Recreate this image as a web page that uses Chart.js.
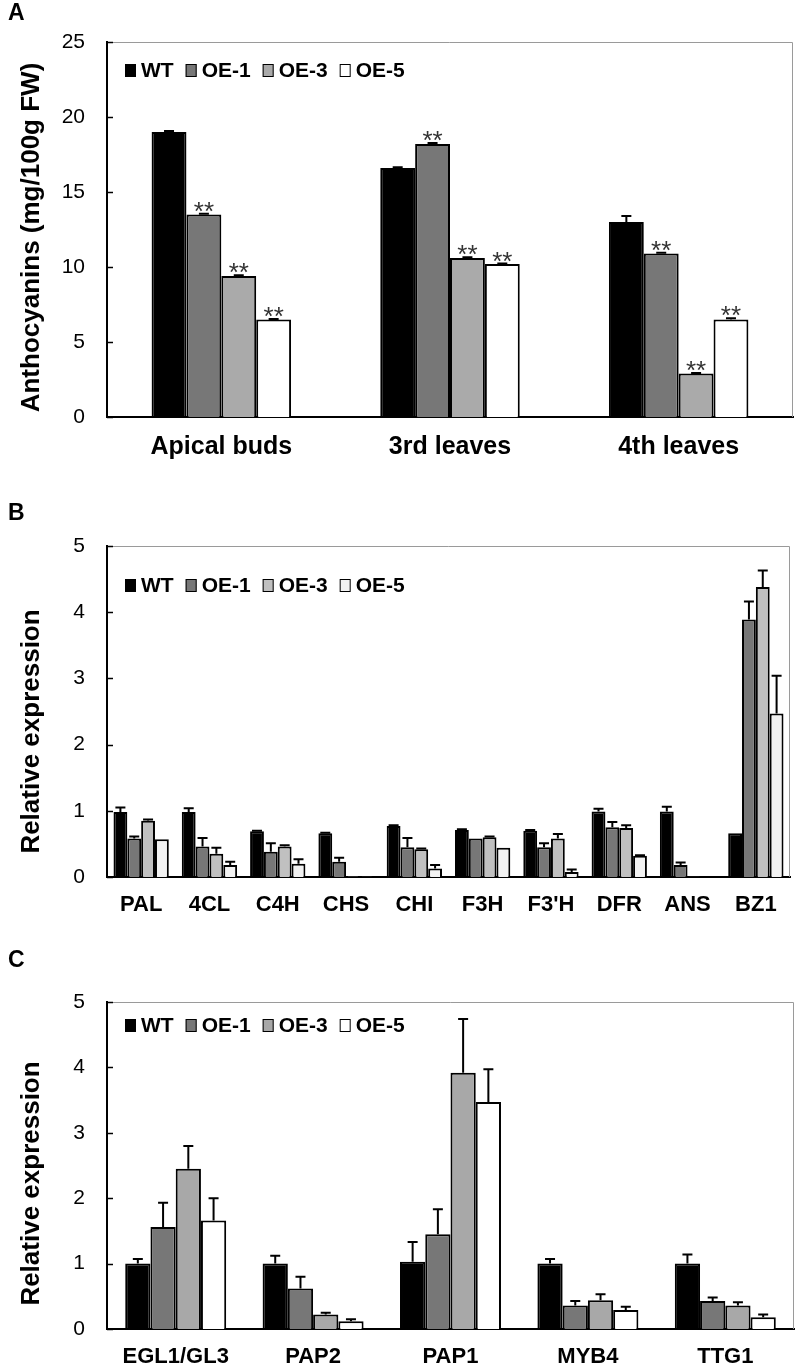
<!DOCTYPE html>
<html>
<head>
<meta charset="utf-8">
<script src="https://cdn.jsdelivr.net/npm/chart.js@4.4.1/dist/chart.umd.min.js"></script>
<style>
    body { margin: 0; background: #fff; }
    #page { position: relative; width: 800px; height: 1372px; overflow: hidden; }
    .panel { position: absolute; left: 0; width: 800px; }
    .letter { position: absolute; left: 8px; font: bold 23px Arial, "Liberation Sans", sans-serif; color: #000; z-index: 2; }
</style>
</head>
<body>
<div id="page">
    <div class="letter" style="top: -1px;">A</div>
    <div class="letter" style="top: 499px;">B</div>
    <div class="letter" style="top: 946px;">C</div>
    <div class="panel" style="top: 0px; height: 470px;"><canvas id="chartA"></canvas></div>
    <div class="panel" style="top: 490px; height: 440px;"><canvas id="chartB"></canvas></div>
    <div class="panel" style="top: 950px; height: 422px;"><canvas id="chartC"></canvas></div>
</div>
<script>
const seriesNames = ['WT', 'OE-1', 'OE-3', 'OE-5'];

// A - anthocyanin content
const tissueLabels = ['Apical buds', '3rd leaves', '4th leaves'];
const anthoWT = [19.0, 16.6, 13.0];
const anthoOE1 = [13.5, 18.2, 10.9];
const anthoOE3 = [9.4, 10.6, 2.9];
const anthoOE5 = [6.5, 10.2, 6.5];
const anthoErrWT = [0.06, 0.05, 0.4];
const anthoErrOE1 = [0.05, 0.06, 0.05];
const anthoErrOE3 = [0.05, 0.05, 0.04];
const anthoErrOE5 = [0.03, 0.03, 0.08];
const anthoStarsWT = [false, false, false];
const anthoStarsOE1 = [true, true, true];
const anthoStarsOE3 = [true, true, true];
const anthoStarsOE5 = [true, true, true];

// B - structural genes
const pathwayGenes = ['PAL', '4CL', 'C4H', 'CHS', 'CHI', 'F3H', "F3'H", 'DFR', 'ANS', 'BZ1'];
const pathWT = [0.98, 0.98, 0.69, 0.66, 0.77, 0.71, 0.70, 0.99, 0.99, 0.66];
const pathOE1 = [0.58, 0.46, 0.38, 0.23, 0.45, 0.58, 0.45, 0.75, 0.18, 3.89];
const pathOE3 = [0.85, 0.35, 0.46, 0.01, 0.42, 0.60, 0.58, 0.74, 0.005, 4.38];
const pathOE5 = [0.57, 0.18, 0.20, 0.005, 0.13, 0.44, 0.075, 0.32, 0, 2.47];
const pathErrWT = [0.07, 0.06, 0.01, 0.01, 0.01, 0.01, 0.01, 0.04, 0.07, 0];
const pathErrOE1 = [0.03, 0.13, 0.13, 0.06, 0.14, 0, 0.06, 0.08, 0.04, 0.27];
const pathErrOE3 = [0.02, 0.09, 0.02, 0, 0.01, 0.01, 0.07, 0.04, 0, 0.25];
const pathErrOE5 = [0, 0.05, 0.07, 0, 0.05, 0, 0.04, 0.01, 0, 0.57];

// C - regulatory genes
const regGenes = ['EGL1/GL3', 'PAP2', 'PAP1', 'MYB4', 'TTG1'];
const regWT = [1.0, 1.0, 1.03, 1.0, 1.0];
const regOE1 = [1.56, 0.62, 1.45, 0.36, 0.43];
const regOE3 = [2.45, 0.22, 3.92, 0.44, 0.36];
const regOE5 = [1.66, 0.12, 3.47, 0.29, 0.18];
const regErrWT = [0.07, 0.12, 0.30, 0.07, 0.14];
const regErrOE1 = [0.37, 0.18, 0.38, 0.07, 0.05];
const regErrOE3 = [0.35, 0.03, 0.82, 0.09, 0.05];
const regErrOE5 = [0.34, 0.03, 0.50, 0.05, 0.04];

const numFont = '"Liberation Sans", Arial, sans-serif';

// grey box on top/right + little inside ticks on the y axis
const framePlugin = {
    id: 'frame',
    beforeDatasetsDraw(chart) {
        const ctx = chart.ctx;
        const a = chart.chartArea;
        ctx.save();
        ctx.strokeStyle = '#9a9a9a';
        ctx.lineWidth = 1;
        ctx.beginPath();
        ctx.moveTo(a.left, a.top + 0.5);
        ctx.lineTo(a.right - 0.5, a.top + 0.5);
        ctx.lineTo(a.right - 0.5, a.bottom);
        ctx.stroke();
        const y = chart.scales.y;
        ctx.strokeStyle = '#000';
        ctx.lineWidth = 1.5;
        y.ticks.forEach(function (t) {
            const py = Math.round(y.getPixelForValue(t.value)) + 0.5;
            ctx.beginPath();
            ctx.moveTo(a.left, py);
            ctx.lineTo(a.left + 6, py);
            ctx.stroke();
        });
        ctx.restore();
    }
};

// upper error bars and ** marks
const errorPlugin = {
    id: 'errbars',
    afterDatasetsDraw(chart) {
        const ctx = chart.ctx;
        const y = chart.scales.y;
        ctx.save();
        chart.data.datasets.forEach(function (ds, i) {
            const meta = chart.getDatasetMeta(i);
            meta.data.forEach(function (bar, j) {
                const v = ds.data[j];
                const e = ds.errors ? ds.errors[j] : 0;
                const top = y.getPixelForValue(v + e);
                if (e > 0) {
                    ctx.strokeStyle = '#000';
                    ctx.lineWidth = 2;
                    ctx.beginPath();
                    ctx.moveTo(bar.x, y.getPixelForValue(v));
                    ctx.lineTo(bar.x, top);
                    ctx.moveTo(bar.x - 5, top);
                    ctx.lineTo(bar.x + 5, top);
                    ctx.stroke();
                }
                if (ds.stars && ds.stars[j]) {
                    ctx.fillStyle = '#333';
                    ctx.font = '26px ' + numFont;
                    ctx.textAlign = 'center';
                    ctx.textBaseline = 'alphabetic';
                    ctx.fillText('**', bar.x, top + 6);
                }
            });
        });
        ctx.restore();
    }
};

// legend drawn inside the plot, top-left
const boxLegendPlugin = {
    id: 'boxLegend',
    afterDraw(chart, args, opts) {
        const ctx = chart.ctx;
        const a = chart.chartArea;
        let x = a.left + opts.dx;
        const cy = a.top + opts.dy;
        ctx.save();
        ctx.font = 'bold 21px ' + numFont;
        ctx.textBaseline = 'middle';
        ctx.textAlign = 'left';
        chart.data.datasets.forEach(function (ds) {
            ctx.fillStyle = ds.backgroundColor;
            ctx.fillRect(x, cy - 6, 11, 13);
            ctx.strokeStyle = '#000';
            ctx.lineWidth = 1;
            ctx.strokeRect(x + 0.5, cy - 5.5, 10, 12);
            ctx.fillStyle = '#000';
            ctx.fillText(ds.label, x + 16, cy + 1);
            x += 16 + ctx.measureText(ds.label).width + 12;
        });
        ctx.restore();
    }
};

// rotated y title, slightly below the middle of the axis like the original
const yTitlePlugin = {
    id: 'yTitle',
    afterDraw(chart, args, opts) {
        const ctx = chart.ctx;
        const a = chart.chartArea;
        ctx.save();
        ctx.translate(opts.x, (a.top + a.bottom) / 2 + opts.shift);
        ctx.rotate(-Math.PI / 2);
        ctx.font = 'bold 26px ' + numFont;
        ctx.fillStyle = '#000';
        ctx.textAlign = 'center';
        ctx.textBaseline = 'middle';
        ctx.fillText(opts.text, 0, 0);
        ctx.restore();
    }
};

function makeDatasets(values, errors, colors, stars) {
    return values.map(function (v, i) {
        return {
            label: seriesNames[i],
            data: v,
            errors: errors[i],
            stars: stars ? stars[i] : null,
            backgroundColor: colors[i],
            borderColor: '#000',
            borderWidth: 2,
            borderSkipped: 'bottom'
        };
    });
}

function makeOptions(cfg) {
    return {
        responsive: true,
        maintainAspectRatio: false,
        animation: false,
        layout: { padding: { top: cfg.padTop, right: cfg.padRight, left: 0, bottom: 0 } },
        datasets: {
            bar: { categoryPercentage: cfg.groupWidth, barPercentage: 1.0 }
        },
        plugins: {
            legend: { display: false },
            tooltip: { enabled: false },
            boxLegend: { dx: 18, dy: cfg.legendY },
            yTitle: { text: cfg.yTitle, x: 32, shift: cfg.titleShift }
        },
        scales: {
            x: {
                grid: { display: false, drawTicks: false },
                border: { display: true, color: '#000', width: 2 },
                ticks: {
                    color: '#000',
                    padding: cfg.labelPad,
                    font: { family: numFont, size: cfg.labelSize, weight: 'bold' }
                },
                afterFit: function (s) { s.height = cfg.xHeight; }
            },
            y: {
                min: 0,
                max: cfg.yMax,
                grid: { display: false, drawTicks: false },
                border: { display: true, color: '#000', width: 2 },
                ticks: {
                    stepSize: cfg.yStep,
                    color: '#000',
                    padding: 22,
                    font: { family: numFont, size: 21 }
                },
                afterFit: function (s) { s.width = 107; }
            }
        }
    };
}

const plugins = [framePlugin, errorPlugin, boxLegendPlugin, yTitlePlugin];

// Anthocyanin content
const chartItemA = document.getElementById('chartA');
if (chartItemA) {
    new Chart(chartItemA, {
        type: 'bar',
        data: {
            labels: tissueLabels,
            datasets: makeDatasets(
                [anthoWT, anthoOE1, anthoOE3, anthoOE5],
                [anthoErrWT, anthoErrOE1, anthoErrOE3, anthoErrOE5],
                ['#000000', '#777777', '#aaaaaa', '#ffffff'],
                [anthoStarsWT, anthoStarsOE1, anthoStarsOE3, anthoStarsOE5]
            )
        },
        options: makeOptions({
            padTop: 42, padRight: 7, xHeight: 53, groupWidth: 0.61,
            yMax: 25, yStep: 5, yTitle: 'Anthocyanins (mg/100g FW)', titleShift: 8,
            labelSize: 25, labelPad: 15, legendY: 28
        }),
        plugins: plugins
    });
}

// Structural genes
const chartItemB = document.getElementById('chartB');
if (chartItemB) {
    new Chart(chartItemB, {
        type: 'bar',
        data: {
            labels: pathwayGenes,
            datasets: makeDatasets(
                [pathWT, pathOE1, pathOE3, pathOE5],
                [pathErrWT, pathErrOE1, pathErrOE3, pathErrOE5],
                ['#000000', '#777777', '#c0c0c0', '#f2f2f2']
            )
        },
        options: makeOptions({
            padTop: 56, padRight: 10, xHeight: 53, groupWidth: 0.81,
            yMax: 5, yStep: 1, yTitle: 'Relative expression', titleShift: 20,
            labelSize: 22, labelPad: 15, legendY: 39
        }),
        plugins: plugins
    });
}

// Regulatory genes
const chartItemC = document.getElementById('chartC');
if (chartItemC) {
    new Chart(chartItemC, {
        type: 'bar',
        data: {
            labels: regGenes,
            datasets: makeDatasets(
                [regWT, regOE1, regOE3, regOE5],
                [regErrWT, regErrOE1, regErrOE3, regErrOE5],
                ['#000000', '#777777', '#a8a8a8', '#ffffff']
            )
        },
        options: makeOptions({
            padTop: 52, padRight: 6, xHeight: 43, groupWidth: 0.735,
            yMax: 5, yStep: 1, yTitle: 'Relative expression', titleShift: 18,
            labelSize: 22, labelPad: 15, legendY: 23
        }),
        plugins: plugins
    });
}
</script>
</body>
</html>
